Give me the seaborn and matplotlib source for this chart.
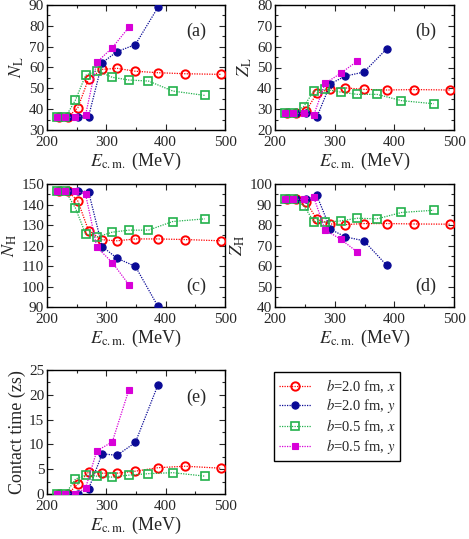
import numpy as np
import pandas as pd
import seaborn as sns
import matplotlib
matplotlib.use("Agg")
import matplotlib.pyplot as plt
from matplotlib.ticker import MultipleLocator
from matplotlib.lines import Line2D

# collision energies (MeV)
E_b20 = [220, 235, 252, 270, 293, 318, 349, 387, 433, 493]
E_b05 = [217, 231, 248, 265, 284, 310, 338, 371, 412, 466]

# N_L
NL_b20x = [36.1, 36.1, 40.7, 54.5, 59.1, 59.6, 58.2, 57.5, 57.0, 56.7]
NL_b20y = [36.1, 36.1, 36.1, 36.4, 62.3, 67.6, 71.0, 88.9]
NL_b05x = [36.1, 36.1, 44.4, 56.2, 58.5, 55.3, 54.0, 53.5, 48.7, 46.6]
NL_b05y = [36.1, 36.1, 36.1, 37.2, 62.5, 69.5, 79.3]

# Z_L
ZL_b20x = [28.0, 28.0, 29.1, 37.6, 39.8, 40.2, 39.5, 39.2, 39.4, 39.2]
ZL_b20y = [28.0, 28.0, 28.0, 26.1, 42.2, 45.9, 47.8, 58.9]
ZL_b05x = [28.0, 28.0, 31.2, 38.7, 39.5, 38.2, 37.1, 37.1, 34.1, 32.6]
ZL_b05y = [28.0, 28.0, 28.0, 27.2, 42.4, 47.2, 53.1]

# N_H
NH_b20x = [146.6, 146.6, 141.7, 127.3, 122.8, 122.3, 123.2, 123.2, 122.9, 122.3]
NH_b20y = [146.6, 146.6, 146.6, 146.3, 119.5, 113.8, 109.8, 90.3]
NH_b05x = [146.6, 146.6, 138.2, 125.7, 124.1, 126.5, 127.5, 127.5, 131.7, 133.0]
NH_b05y = [146.6, 146.6, 146.6, 145.0, 119.2, 111.7, 100.9]

# Z_H
ZH_b20x = [92.5, 92.5, 91.4, 82.8, 80.5, 80.2, 80.7, 80.7, 80.5, 80.4]
ZH_b20y = [92.5, 92.5, 92.5, 94.5, 77.9, 74.2, 72.3, 60.4]
ZH_b05x = [92.5, 92.5, 89.5, 81.7, 81.4, 82.0, 83.3, 83.0, 86.1, 87.2]
ZH_b05y = [92.5, 92.5, 92.5, 93.5, 77.6, 73.1, 66.8]

# contact time (zs)
CT_b20x = [0.0, 0.0, 2.0, 4.4, 4.2, 4.2, 4.6, 5.3, 5.6, 5.2]
CT_b20y = [0.0, 0.0, 0.0, 1.0, 8.1, 7.8, 10.4, 22.0]
CT_b05x = [0.0, 0.0, 3.0, 3.8, 3.6, 3.4, 3.8, 4.1, 4.3, 3.6]
CT_b05y = [0.0, 0.0, 0.0, 1.2, 8.7, 10.5, 21.0]

labels = [r"$b$=2.0 fm, $x$", r"$b$=2.0 fm, $y$",
          r"$b$=0.5 fm, $x$", r"$b$=0.5 fm, $y$"]

sns.set_style("ticks")
plt.rcParams["font.family"] = ["Liberation Serif", "DejaVu Serif"]
plt.rcParams["mathtext.fontset"] = "stix"
plt.rcParams["xtick.direction"] = "in"
plt.rcParams["ytick.direction"] = "in"

RED, BLUE, GREEN, MAG = "#ff0000", "#0a0a96", "#22b14c", "#d800d8"
styles = {
    0: dict(color=RED, marker="o", ms=6, mfc="none", mec=RED, mew=1.4),
    1: dict(color=BLUE, marker="o", ms=5.2, mfc=BLUE, mec=BLUE, mew=0.8),
    2: dict(color=GREEN, marker="s", ms=5.2, mfc="none", mec=GREEN, mew=1.2),
    3: dict(color=MAG, marker="s", ms=5, mfc=MAG, mec=MAG, mew=0.8),
}

fig = plt.figure(figsize=(4.69, 5.39), dpi=100)
W, H = 469, 539


def add_ax(l, t, w, h):
    return fig.add_axes([l / W, 1 - (t + h) / H, w / W, h / H])


panels = [
    (add_ax(47, 5, 178, 125), (NL_b20x, NL_b20y, NL_b05x, NL_b05y),
     r"$N_{\rm L}$", (30, 90), 10, "(a)", 0.79),
    (add_ax(275, 5, 179, 125), (ZL_b20x, ZL_b20y, ZL_b05x, ZL_b05y),
     r"$Z_{\rm L}$", (20, 80), 10, "(b)", 0.79),
    (add_ax(47, 184, 178, 123), (NH_b20x, NH_b20y, NH_b05x, NH_b05y),
     r"$N_{\rm H}$", (90, 150), 10, "(c)", 0.17),
    (add_ax(275, 184, 179, 123), (ZH_b20x, ZH_b20y, ZH_b05x, ZH_b05y),
     r"$Z_{\rm H}$", (40, 100), 10, "(d)", 0.17),
    (add_ax(47, 370, 178, 124), (CT_b20x, CT_b20y, CT_b05x, CT_b05y),
     "Contact time (zs)", (0, 25), 5, "(e)", 0.78),
]

for ax, series, ylab, ylim, ystep, tag, ty in panels:
    xs = [E_b20, E_b20[:len(series[1])], E_b05, E_b05[:len(series[3])]]
    for i in (2, 3, 0, 1):
        df = pd.DataFrame({"E": xs[i], "v": series[i]})
        sns.lineplot(data=df, x="E", y="v", ax=ax, estimator=None, sort=False,
                     linestyle=(0, (1, 1)), lw=0.9, zorder=3 + i, **styles[i])
    ax.set_xlim(200, 500)
    ax.set_ylim(*ylim)
    ax.xaxis.set_major_locator(MultipleLocator(100))
    ax.xaxis.set_minor_locator(MultipleLocator(50))
    ax.yaxis.set_major_locator(MultipleLocator(ystep))
    ax.yaxis.set_minor_locator(MultipleLocator(ystep / 2))
    ax.tick_params(which="both", top=True, right=True, labelsize=11)
    ax.tick_params(axis="x", pad=4)
    ax.tick_params(axis="y", pad=2)
    ax.tick_params(which="major", length=4, width=0.8)
    ax.tick_params(which="minor", length=2, width=0.8)
    for s in ax.spines.values():
        s.set_linewidth(1.0)
        s.set_color("black")
    ax.set_xlabel(r"$E_{\rm c.m.}$ (MeV)", fontsize=13, labelpad=2)
    ax.set_ylabel(ylab, fontsize=13, labelpad=2)
    ax.text(0.84, ty, tag, transform=ax.transAxes, fontsize=13,
            ha="center", va="center")

handles = [Line2D([], [], linestyle=(0, (1, 1)), lw=0.9, **styles[i]) for i in range(4)]
leg = fig.legend(handles, labels, loc="upper left",
                 bbox_to_anchor=(274 / W, 1 - 372 / H), fontsize=10.5,
                 frameon=True, fancybox=False, edgecolor="black", framealpha=1,
                 handlelength=2.2, labelspacing=0.12, borderpad=0.35,
                 handletextpad=1.0, borderaxespad=0)
leg.get_frame().set_linewidth(1.0)

fig.savefig("out.png", dpi=100)
